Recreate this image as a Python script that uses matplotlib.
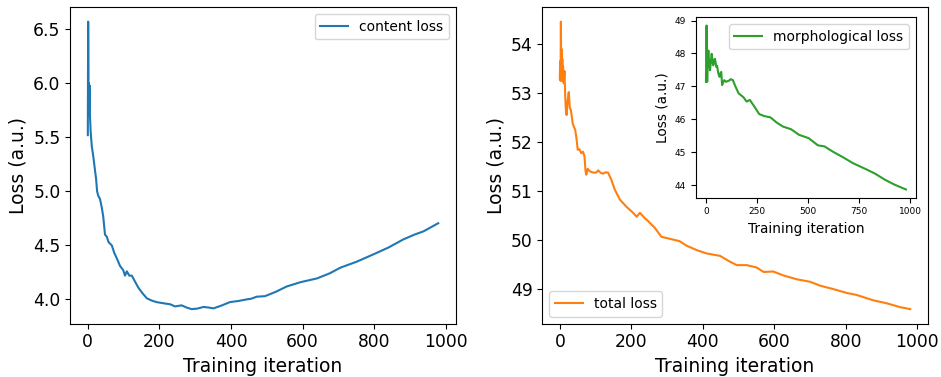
import numpy as np
import matplotlib.pyplot as plt

# content loss (left panel)
content_it = [0, 1, 2, 3, 4, 5, 6, 8, 11, 15, 18, 21, 23, 26, 29, 34, 39, 43, 48, 53,
              58, 67, 74, 81, 90, 99, 104, 109, 116, 123, 131, 141, 152, 165, 178, 192,
              210, 230, 244, 262, 276, 290, 306, 323, 337, 351, 375, 397, 420, 444, 456,
              472, 495, 525, 556, 595, 640, 675, 706, 752, 798, 840, 882, 913, 938, 979]
content_loss = [5.52, 6.57, 5.95, 6.0, 5.76, 5.98, 5.70, 5.55, 5.42, 5.33, 5.25, 5.17,
                5.12, 5.00, 4.96, 4.93, 4.85, 4.77, 4.60, 4.58, 4.53, 4.50, 4.43, 4.38,
                4.31, 4.27, 4.22, 4.26, 4.22, 4.22, 4.17, 4.11, 4.06, 4.01, 3.99, 3.975,
                3.965, 3.955, 3.935, 3.945, 3.925, 3.91, 3.915, 3.93, 3.925, 3.917, 3.945,
                3.975, 3.985, 4.0, 4.006, 4.025, 4.03, 4.07, 4.12, 4.16, 4.194, 4.24,
                4.294, 4.35, 4.417, 4.48, 4.556, 4.60, 4.63, 4.705]

# total loss (right panel)
total_it = [0, 1, 2, 3, 4, 5, 6, 7, 8, 9, 11, 13, 15, 17, 19, 22, 25, 28, 31, 36, 40,
            43, 47, 50, 55, 60, 65, 69, 72, 74, 78, 84, 90, 98, 103, 107, 114, 121, 128,
            135, 144, 154, 168, 187, 205, 215, 224, 235, 247, 266, 284, 307, 335, 354,
            382, 410, 448, 476, 495, 523, 551, 570, 597, 625, 663, 700, 728, 765, 803,
            830, 877, 914, 952, 980]
total_loss = [53.3, 53.65, 53.25, 54.46, 53.4, 53.9, 53.25, 53.7, 53.3, 53.55, 53.2,
              53.45, 52.95, 52.65, 52.55, 52.85, 53.02, 52.7, 52.65, 52.38, 52.3, 52.25,
              52.05, 51.84, 51.85, 51.77, 51.8, 51.7, 51.4, 51.33, 51.45, 51.4, 51.38,
              51.37, 51.38, 51.42, 51.37, 51.35, 51.38, 51.37, 51.23, 51.02, 50.82,
              50.67, 50.55, 50.47, 50.55, 50.46, 50.38, 50.24, 50.06, 50.02, 49.97,
              49.88, 49.79, 49.72, 49.67, 49.55, 49.48, 49.48, 49.43, 49.34, 49.35,
              49.27, 49.19, 49.14, 49.06, 48.99, 48.91, 48.87, 48.76, 48.70, 48.62, 48.58]

# morphological loss (inset)
morph_it = [0, 3, 6, 9, 12, 16, 20, 24, 28, 32, 36, 40, 44, 48, 51, 55, 59, 63, 67, 71,
            75, 79, 84, 90, 98, 106, 114, 121, 132, 145, 160, 184, 199, 215, 238, 261,
            285, 316, 347, 378, 417, 456, 503, 534, 549, 580, 627, 674, 720, 783, 829,
            876, 923, 980]
morph_loss = [47.14, 48.85, 47.14, 47.9, 48.09, 47.7, 47.49, 47.75, 47.99, 47.75,
              47.64, 47.8, 47.84, 47.7, 47.59, 47.62, 47.44, 47.35, 47.29, 47.4, 47.44,
              47.04, 47.12, 47.19, 47.14, 47.16, 47.18, 47.22, 47.19, 46.99, 46.79,
              46.67, 46.54, 46.59, 46.38, 46.16, 46.10, 46.06, 45.90, 45.78, 45.70,
              45.53, 45.43, 45.28, 45.21, 45.18, 45.00, 44.84, 44.67, 44.49, 44.35,
              44.17, 44.02, 43.87]

fig = plt.figure(figsize=(9.41, 3.77), dpi=100)

ax1 = fig.add_axes([0.0747, 0.1419, 0.4096, 0.8387])
ax1.plot(content_it, content_loss, color='tab:blue', label='content loss')
ax1.set_xlabel('Training iteration', fontsize=13.5)
ax1.set_ylabel('Loss (a.u.)', fontsize=13.5)
ax1.tick_params(labelsize=12.3)
ax1.legend(loc='upper right', fontsize=10)

ax2 = fig.add_axes([0.5763, 0.1419, 0.4096, 0.8387])
ax2.plot(total_it, total_loss, color='tab:orange', label='total loss')
ax2.set_xlabel('Training iteration', fontsize=13.5)
ax2.set_ylabel('Loss (a.u.)', fontsize=13.5)
ax2.tick_params(labelsize=12.3)
ax2.legend(loc='lower left', fontsize=10)

ax3 = fig.add_axes([0.7396, 0.4756, 0.2338, 0.4785])
ax3.plot(morph_it, morph_loss, color='tab:green', label='morphological loss')
ax3.set_xlabel('Training iteration', fontsize=9.8)
ax3.set_ylabel('Loss (a.u.)', fontsize=9.8)
ax3.tick_params(labelsize=6.5)
ax3.set_xticks([0, 250, 500, 750, 1000])
ax3.legend(loc='upper right', fontsize=10)

fig.savefig('out.png', dpi=100)
